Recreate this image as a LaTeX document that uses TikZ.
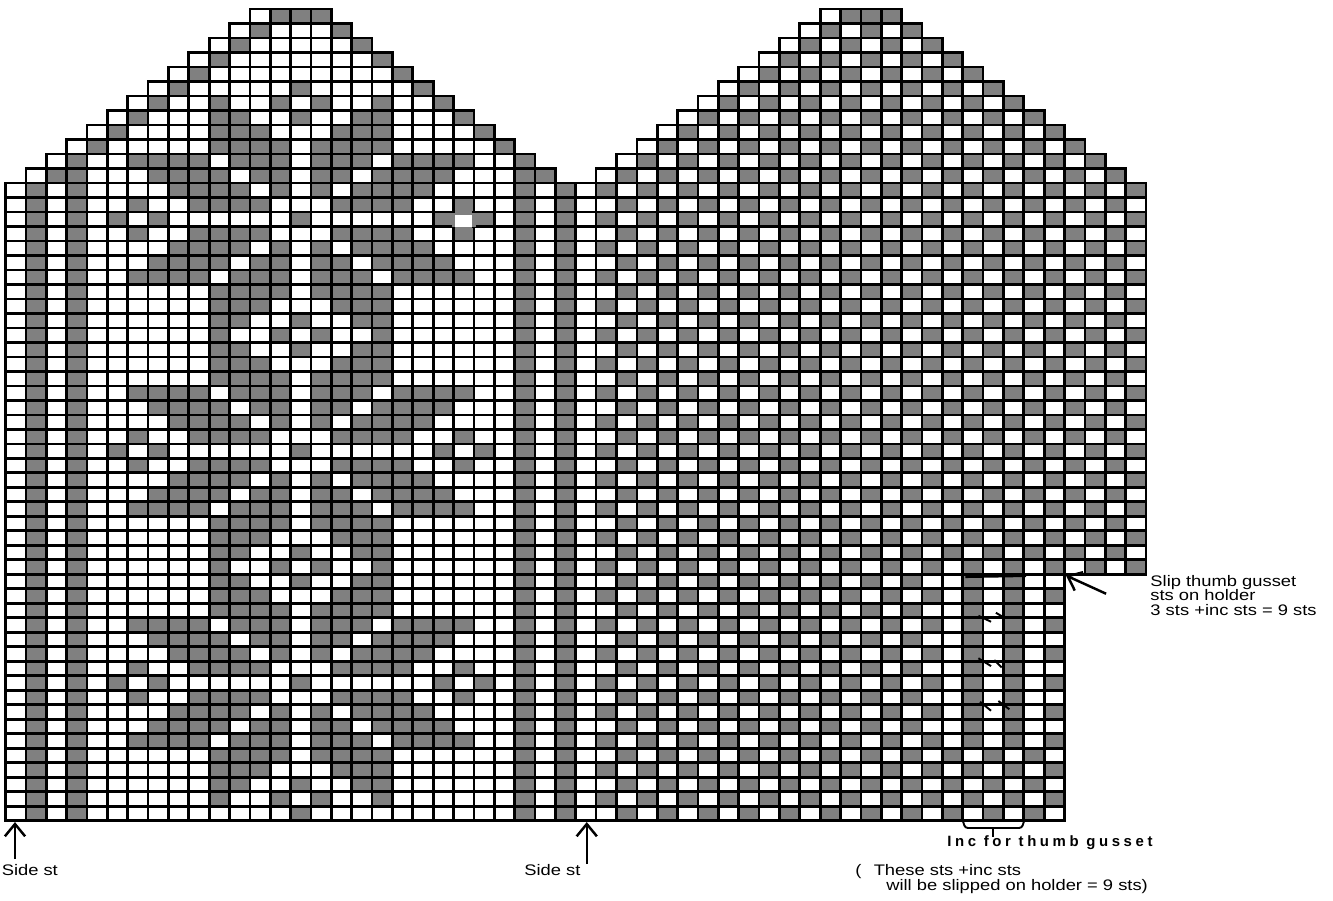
\documentclass[tikz,border=0pt]{standalone}
\usepackage{fontspec}
\setmainfont{Liberation Sans}
\newfontfamily\chartfont[FakeStretch=1.2]{Liberation Sans}
\newfontfamily\incfont[LetterSpace=24]{Liberation Sans Bold}
\usetikzlibrary{arrows.meta}
\definecolor{knitgray}{HTML}{808080}
\tikzset{
  cellline/.style={line width=1.55pt},
  sidearrow/.style={line width=1.4pt,-{Straight Barb[length=7pt,width=11.5pt]}},
  tickmark/.style={line width=1.1pt},
  bracketline/.style={line width=1.1pt,rounded corners=1.5pt},
  chartlabel/.style={anchor=base west,inner sep=0pt,font=\chartfont\fontsize{8.7}{8.7}\selectfont},
  inclabel/.style={anchor=base west,inner sep=0pt,font=\incfont\fontsize{8.5}{8.5}\selectfont}
}

\begin{document}
\begin{tikzpicture}[x=0.40732cm,y=0.2899cm]
\useasboundingbox (-0.27,0.621) rectangle (65.18,-61.47);
% back of hand, cells up to col 14, mirrored about col 14
\foreach \r/\cells in {
  0/{13,14},1/{12},2/{11},3/{10},4/{9},5/{8,14},6/{7,10,13},7/{6,10,11,14},
  8/{5,10,11,12},9/{4,10,11,12,13},10/{3,6,7,8,9,11,12,13},11/{2,3,7,8,9,10,12,13},
  12/{8,9,10,11,13},13/{6,9,10,11,12},14/{5,7,14},15/{6,9,10,11,12},
  16/{8,9,10,11,13},17/{7,8,9,10,12,13},18/{6,7,8,9,11,12,13},19/{10,11,12,13},
  20/{10,11,12},21/{10,11,14},22/{10,13},23/{10,11,14},
  24/{10,11,12},25/{10,11,12,13},26/{6,7,8,9,11,12,13},27/{7,8,9,10,12,13},
  28/{8,9,10,11,13},29/{6,9,10,11,12},30/{5,7,14},31/{6,9,10,11,12},
  32/{8,9,10,11,13},33/{7,8,9,10,12,13},34/{6,7,8,9,11,12,13},35/{10,11,12,13},
  36/{10,11,12},37/{10,11,14},38/{10,13},39/{10,11,14},
  40/{10,11,12},41/{10,11,12,13},42/{6,7,8,9,11,12,13},43/{7,8,9,10,12,13},
  44/{8,9,10,11,13},45/{6,9,10,11,12},46/{5,7,14},47/{6,9,10,11,12},
  48/{8,9,10,11,13},49/{7,8,9,10,12,13},50/{6,7,8,9,11,12,13},51/{10,11,12,13},
  52/{10,11,12},53/{10,11,14},54/{10,13},55/{14}}{
  \foreach \c in \cells {
    \fill[knitgray] (\c,-\r) rectangle +(1,-1);
    \fill[knitgray] (28-\c,-\r) rectangle +(1,-1);
  }
}
% side stripes
\foreach \c in {1,3,25,27} {
  \fill[knitgray] (\c,-12) rectangle (\c+1,-56);
}
% palm, checks
\foreach \r in {0,...,55} {
  \pgfmathtruncatemacro\firstc{\r<12 ? 40-\r : 29}
  \pgfmathtruncatemacro\lastc{\r<12 ? 43+\r : (\r<39 ? 55 : 51)}
  \foreach \c in {\firstc,...,\lastc} {
    \ifodd\numexpr\r+\c\relax
      \fill[knitgray] (\c,-\r) rectangle +(1,-1);
    \fi
  }
}
\fill[knitgray] (42,0) rectangle +(1,-1);
% thumb gusset stripes
\foreach \r in {39,41,...,49} {
  \foreach \c in {46,48,50} {
    \fill[white] (\c,-\r) rectangle +(1,-1);
  }
  \foreach \c in {47,49} {
    \fill[knitgray] (\c,-\r) rectangle +(1,-1);
  }
}
% grid
\foreach \r in {0,...,55} {
  \pgfmathtruncatemacro\firsta{\r<12 ? 12-\r : 0}
  \pgfmathtruncatemacro\lasta{\r<12 ? 15+\r : 27}
  \foreach \c in {\firsta,...,\lasta} {
    \draw[cellline] (\c,-\r) rectangle +(1,-1);
  }
  \pgfmathtruncatemacro\firstb{\r<12 ? 40-\r : 28}
  \pgfmathtruncatemacro\lastb{\r<12 ? 43+\r : (\r<39 ? 55 : 51)}
  \foreach \c in {\firstb,...,\lastb} {
    \draw[cellline] (\c,-\r) rectangle +(1,-1);
  }
}
% the one washed out cell
\fill[knitgray] (21.9,-14.08) rectangle (23.1,-15.02);
\fill[knitgray] (22.08,-13.9) rectangle (22.9,-15.1);
\fill[white] (22.07,-14.2) rectangle (22.89,-15.02);
% inc marks
\foreach \xa/\ya/\xb/\yb in {47.77/-41.86/48.39/-42.27,48.63/-41.65/49.08/-42.03,
  47.77/-44.79/48.39/-45.33,48.55/-44.91/48.91/-45.42,
  47.85/-47.79/48.39/-48.41,48.75/-47.74/49.29/-48.31} {
  \draw[tickmark] (\xa,\ya) -- (\xb,\yb);
}
\draw[tickmark] (47.13,-39.19) -- (50.11,-39.12);
% bracket
\draw[bracketline] (47.02,-56.07) -- (47.12,-56.5) -- (49.9,-56.5) -- (50,-56.07);
\coordinate (bracketmid) at (48.5,-56.5);
\coordinate (bracketend) at (48.5,-57.1);
\draw[tickmark] (bracketmid) -- (bracketend);
% arrows
\coordinate (sidetipa) at (0.466,-56.09);
\coordinate (sidetaila) at (0.466,-58.64);
\coordinate (sidetipb) at (28.54,-56.09);
\coordinate (sidetailb) at (28.54,-58.99);
\coordinate (sliptip) at (52.07,-39.08);
\coordinate (sliptail) at (54.04,-40.34);
\draw[sidearrow] (sidetaila) -- (sidetipa);
\draw[sidearrow] (sidetailb) -- (sidetipb);
\draw[sidearrow] (sliptail) -- (sliptip);
% labels
\node[chartlabel] (sidea) at (-0.2,-59.81) {Side st};
\node[chartlabel] (sideb) at (25.46,-59.81) {Side st};
\node[chartlabel] (slipa) at (56.2,-39.81) {Slip thumb gusset};
\node[chartlabel] (slipb) at (56.2,-40.82) {sts on holder};
\node[chartlabel] (slipc) at (56.2,-41.81) {3 sts +inc sts = 9 sts};
\node[inclabel] (inctext) at (46.23,-57.79) {Inc for thumb gusset};
\node[chartlabel] (thesea) at (41.71,-59.81) {(\hspace{7pt}These sts +inc sts};
\node[chartlabel] (theseb) at (43.23,-60.83) {will be slipped on holder = 9 sts)};
\end{tikzpicture}
\end{document}
